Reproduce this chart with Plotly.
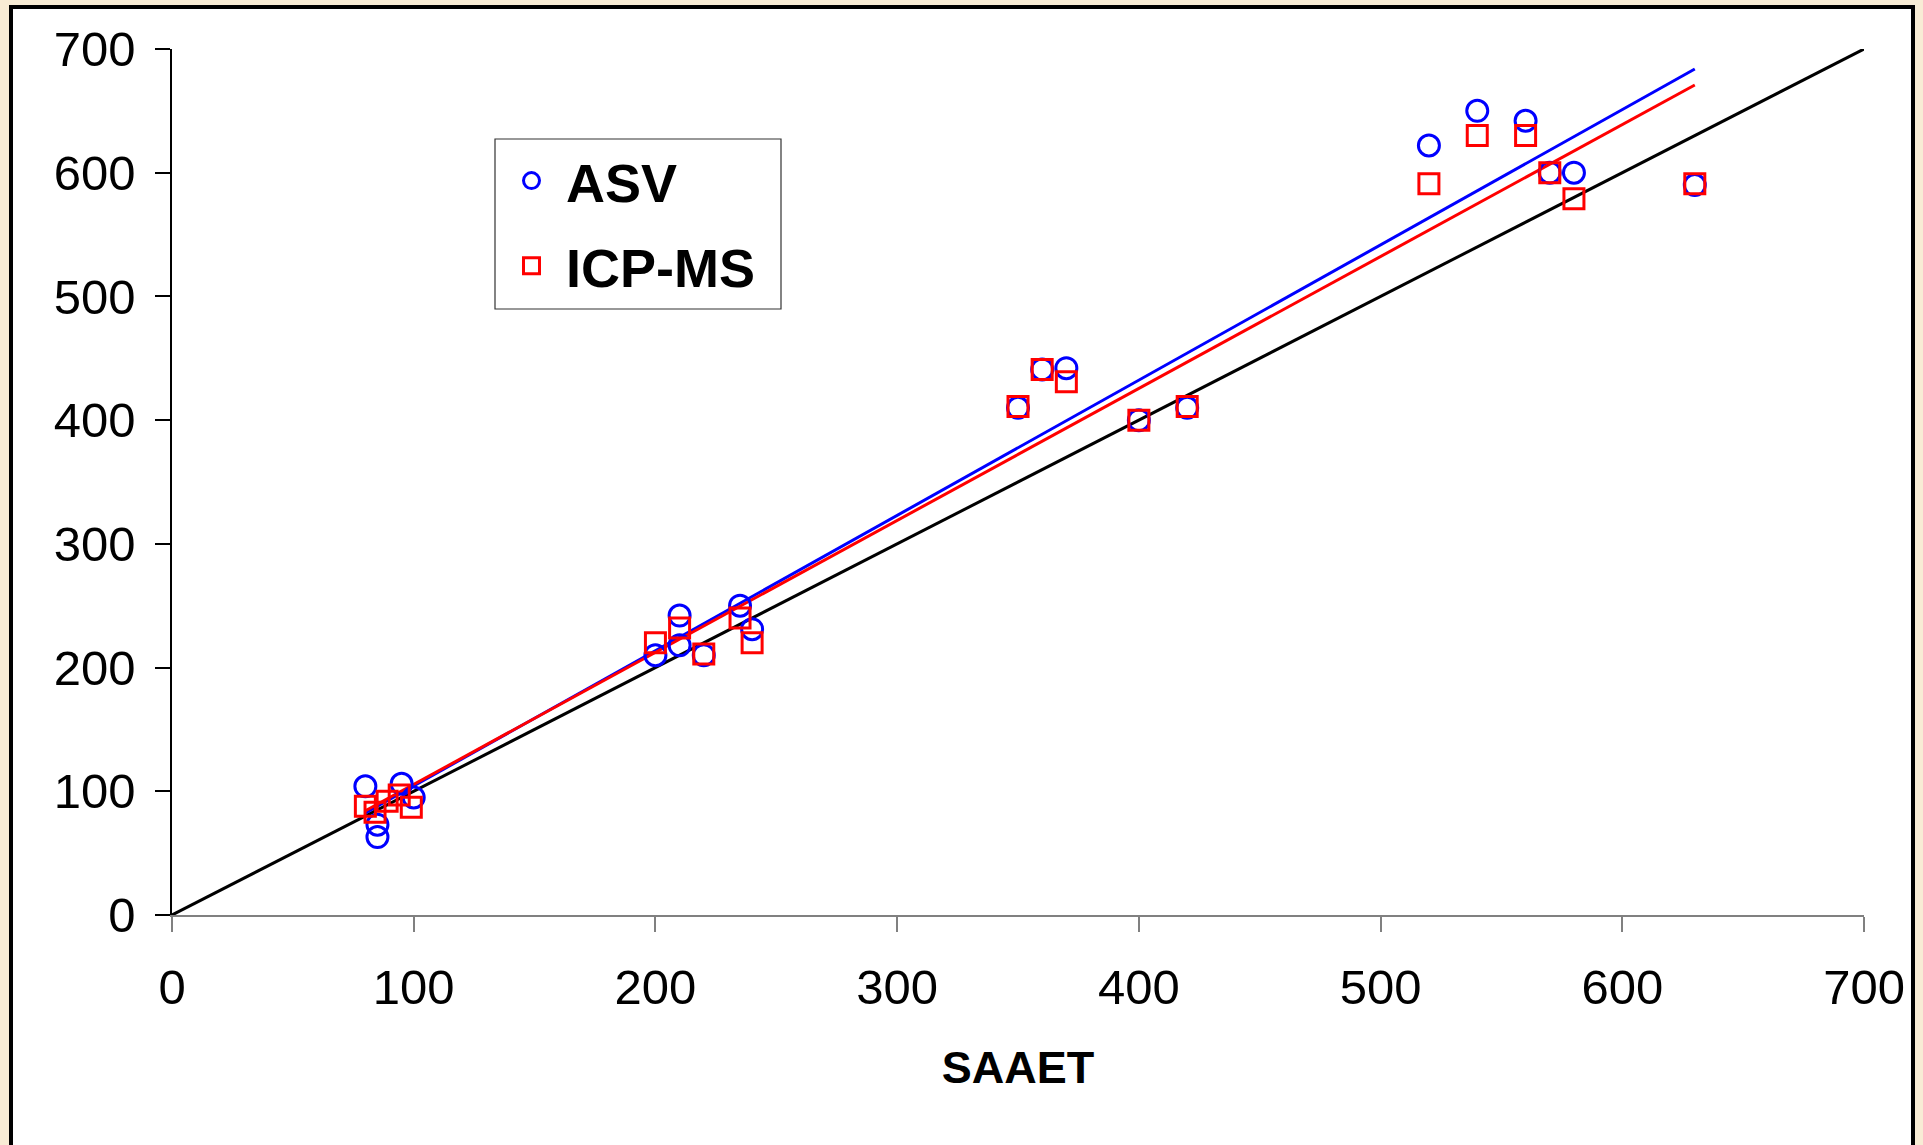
import numpy as np
import plotly.graph_objects as go

# ---- data ----
asv_x = [80, 85, 85, 95, 100, 200, 210, 210, 220, 235, 240, 350, 360, 370, 400, 420, 520, 540, 560, 570, 580, 630]
asv_y = [104, 73, 63, 106, 95, 210, 242, 218, 210, 250, 231, 410, 441, 442, 400, 410, 622, 650, 642, 600, 600, 590]
icp_x = [80, 84, 89, 94, 99, 200, 210, 220, 235, 240, 350, 360, 370, 400, 420, 520, 540, 560, 570, 580, 630]
icp_y = [88, 83, 92, 97, 87, 220, 232, 211, 240, 220, 411, 441, 431, 400, 411, 591, 630, 630, 600, 579, 591]
identity_x = [0, 700]
tick_vals = [0, 100, 200, 300, 400, 500, 600, 700]

FONT = "Arial, Liberation Sans, sans-serif"

fig = go.Figure()

# 1:1 line
fig.add_trace(go.Scatter(x=identity_x, y=identity_x, mode="lines",
                         line=dict(color="black", width=3), showlegend=False, hoverinfo="skip"))

# regression lines
for xs, ys, col in [(asv_x, asv_y, "#0000ff"), (icp_x, icp_y, "#ff0000")]:
    b, a = np.polyfit(xs, ys, 1)
    lx = np.array([min(xs), max(xs)])
    fig.add_trace(go.Scatter(x=lx, y=a + b * lx, mode="lines",
                             line=dict(color=col, width=3), showlegend=False, hoverinfo="skip"))

fig.add_trace(go.Scatter(x=asv_x, y=asv_y, mode="markers", name="ASV", legendgroup="a",
                         marker=dict(symbol="circle-open", size=21, color="#0000ff",
                                     line=dict(width=3, color="#0000ff"))))
fig.add_trace(go.Scatter(x=icp_x, y=icp_y, mode="markers", name="ICP-MS", legendgroup="b",
                         marker=dict(symbol="square-open", size=20, color="#ff0000",
                                     line=dict(width=3, color="#ff0000"))))

W, H = 1923, 1145
L, R, T, B = 172, 1923 - 1864, 49, 1145 - 915
pw, ph = W - L - R, H - T - B

def px_x(p):
    return (p - L) / pw

def px_y(p):
    return (H - B - p) / ph

# white card with black border
fig.add_shape(type="rect", xref="paper", yref="paper", layer="below",
              x0=px_x(11), x1=px_x(1913), y0=px_y(1160), y1=px_y(7),
              fillcolor="white", line=dict(color="black", width=4))
# legend frame
fig.add_shape(type="rect", xref="paper", yref="paper", layer="above",
              x0=px_x(495), x1=px_x(781), y0=px_y(309), y1=px_y(139),
              fillcolor="white", line=dict(color="#333333", width=1.2))

fig.update_layout(
    width=W, height=H,
    margin=dict(l=L, r=R, t=T, b=B, autoexpand=False),
    paper_bgcolor="#f8ecd5",
    plot_bgcolor="white",
    font=dict(family=FONT, color="black", size=49),
    showlegend=True,
    legend=dict(x=px_x(497), y=px_y(139), xanchor="left", yanchor="top",
                bgcolor="rgba(0,0,0,0)", borderwidth=0,
                font=dict(family=FONT, size=54, weight="bold", color="black"),
                tracegroupgap=12, itemwidth=59),
    xaxis=dict(range=[0, 700], tickvals=tick_vals, showgrid=False, zeroline=False,
               showline=True, linecolor="#808080", linewidth=1.5,
               ticks="outside", ticklen=15, tickcolor="#808080", tickwidth=1.5,
               tickfont=dict(size=49), ticklabelstandoff=13,
               title=dict(text="SAAET", font=dict(size=45, weight="bold"), standoff=39)),
    yaxis=dict(range=[0, 700], tickvals=tick_vals, showgrid=False, zeroline=False,
               showline=True, linecolor="black", linewidth=1.5,
               ticks="outside", ticklen=15, tickcolor="black", tickwidth=1.5,
               tickfont=dict(size=49), ticklabelstandoff=10),
)

fig.write_html("out.html")
